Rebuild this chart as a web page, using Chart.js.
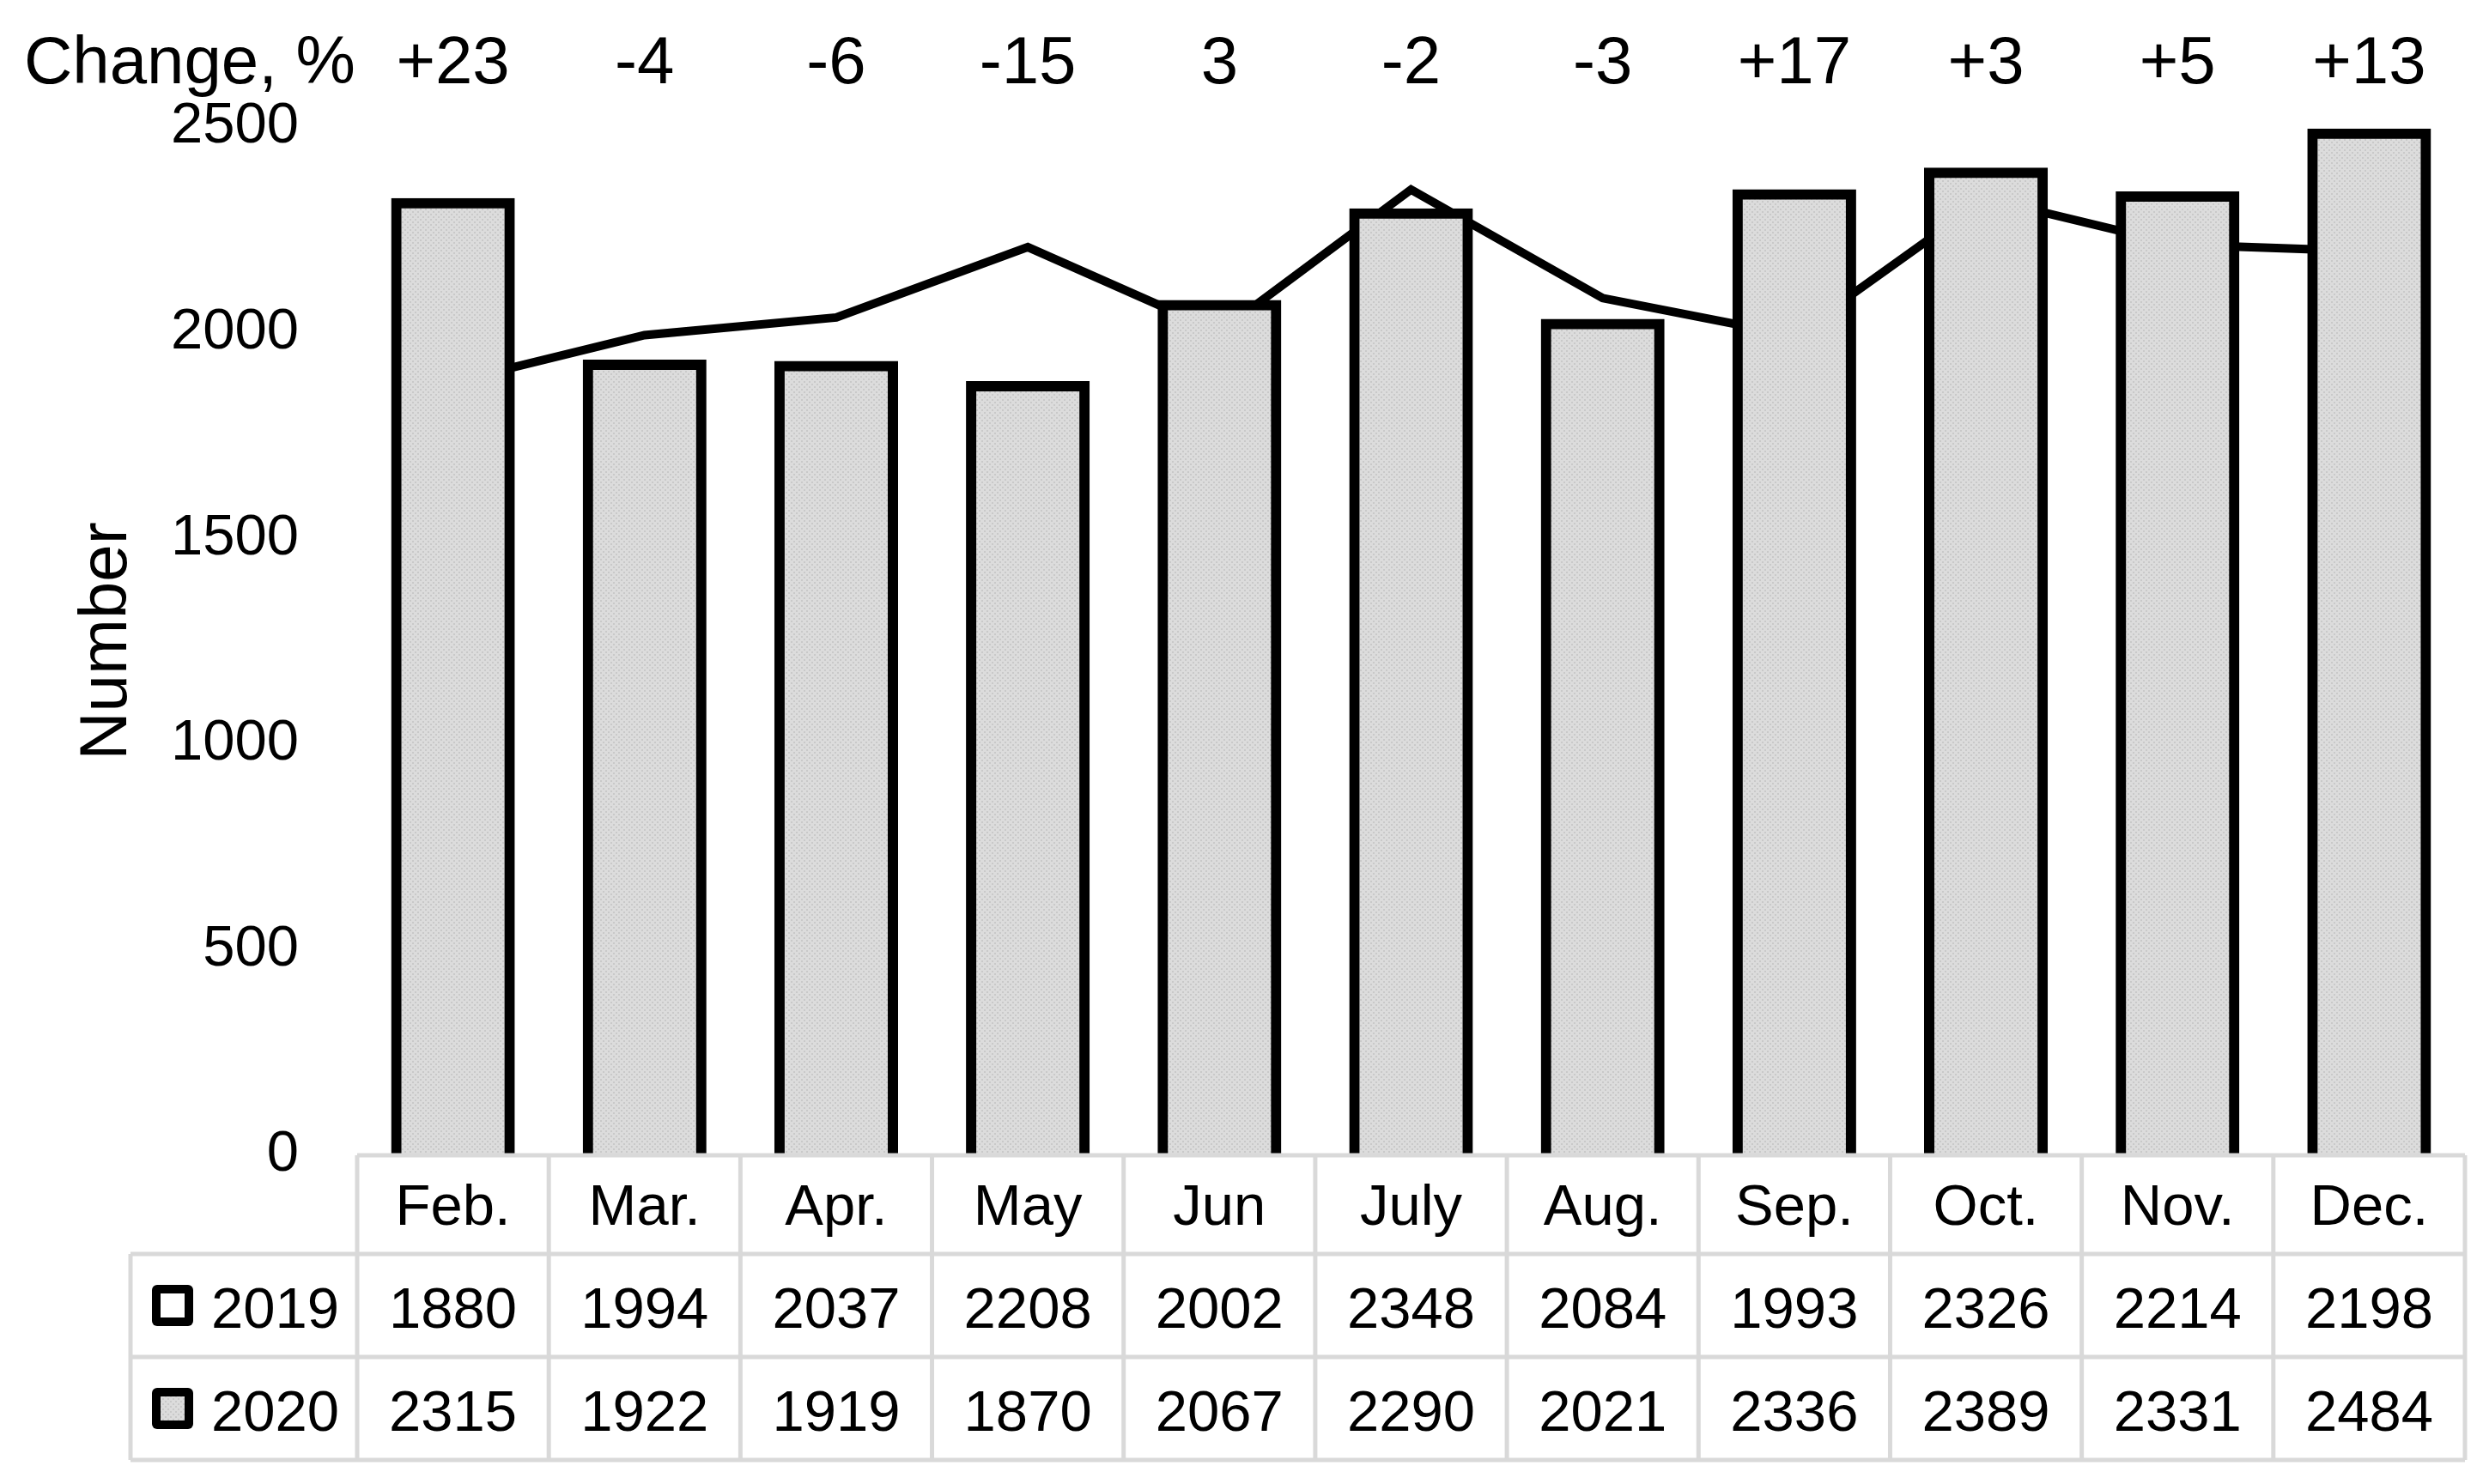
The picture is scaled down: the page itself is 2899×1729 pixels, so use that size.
<!DOCTYPE html>
<html>
<head>
<meta charset="utf-8">
<title>Number by month, 2019 vs 2020</title>
<script src="https://cdn.jsdelivr.net/npm/chart.js@4.4.1/dist/chart.umd.min.js"></script>
<style>
  html, body { margin: 0; padding: 0; background: #fff; }
  #wrap { width: 2899px; height: 1729px; }
</style>
</head>
<body>
<div id="wrap"><canvas id="chart" width="2899" height="1729"></canvas></div>
<script>
// Data
const months = ['Feb.', 'Mar.', 'Apr.', 'May', 'Jun', 'July', 'Aug.', 'Sep.', 'Oct.', 'Nov.', 'Dec.'];
const values2019 = [1880, 1994, 2037, 2208, 2002, 2348, 2084, 1993, 2326, 2214, 2198];
const values2020 = [2315, 1922, 1919, 1870, 2067, 2290, 2021, 2336, 2389, 2331, 2484];
const changePct = ['+23', '-4', '-6', '-15', '3', '-2', '-3', '+17', '+3', '+5', '+13'];
const seriesNames = ['2019', '2020'];

const FONT = '"Liberation Sans", Arial, sans-serif';
const GRID_GRAY = '#d9d9d9';

// light gray fill with a fine dot texture, like the original bars
function makeBarFill() {
    const tile = document.createElement('canvas');
    tile.width = 6;
    tile.height = 6;
    const t = tile.getContext('2d');
    t.fillStyle = '#dcdcdc';
    t.fillRect(0, 0, 6, 6);
    t.fillStyle = '#c9c9c9';
    t.fillRect(0, 0, 2, 2);
    t.fillRect(3, 3, 2, 2);
    return document.getElementById('chart').getContext('2d').createPattern(tile, 'repeat');
}
const BAR_FILL = makeBarFill();

// Draws the data table under the plot and the "Change, %" row above it
const dataTablePlugin = {
    id: 'dataTable',
    afterDraw(chart) {
        const ctx = chart.ctx;
        const xs = chart.scales.x;
        const area = chart.chartArea;
        const colW = xs.width / months.length;
        const legendLeft = 152;
        const rows = [area.bottom, area.bottom + 115, area.bottom + 235, area.bottom + 355];

        ctx.save();

        // clean background under the bars for the header row
        ctx.fillStyle = '#fff';
        ctx.fillRect(area.left, rows[0] + 2, area.right - area.left, rows[1] - rows[0]);

        // grid lines of the table
        ctx.strokeStyle = GRID_GRAY;
        ctx.lineWidth = 5;
        ctx.beginPath();
        ctx.moveTo(area.left, rows[0]);
        ctx.lineTo(area.right, rows[0]);
        for (let r = 1; r < rows.length; r++) {
            ctx.moveTo(legendLeft, rows[r]);
            ctx.lineTo(area.right, rows[r]);
        }
        for (let i = 0; i <= months.length; i++) {
            const x = area.left + i * colW;
            ctx.moveTo(x, rows[0]);
            ctx.lineTo(x, rows[3]);
        }
        ctx.moveTo(legendLeft, rows[1]);
        ctx.lineTo(legendLeft, rows[3]);
        ctx.stroke();

        // cell texts
        ctx.fillStyle = '#000';
        ctx.font = '67px ' + FONT;
        ctx.textAlign = 'center';
        ctx.textBaseline = 'alphabetic';
        months.forEach((m, i) => {
            const cx = xs.getPixelForValue(i);
            ctx.fillText(m, cx, rows[0] + 81);
            ctx.fillText(String(values2019[i]), cx, rows[1] + 86);
            ctx.fillText(String(values2020[i]), cx, rows[2] + 86);
        });

        // legend keys + series names
        ['#ffffff', BAR_FILL].forEach((fill, r) => {
            const cy = (rows[r + 1] + rows[r + 2]) / 2;
            const size = 48;
            const x0 = 177, y0 = cy - size / 2;
            ctx.fillStyle = '#000';
            ctx.beginPath();
            ctx.roundRect(x0, y0, size, size, 6);
            ctx.fill();
            ctx.fillStyle = fill;
            ctx.fillRect(x0 + 10, y0 + 10, size - 20, size - 20);
            ctx.fillStyle = '#000';
            ctx.textAlign = 'left';
            ctx.fillText(seriesNames[r], 246, rows[r + 1] + 86);
        });

        // change row on top
        ctx.font = '78px ' + FONT;
        ctx.textAlign = 'left';
        ctx.fillText('Change, %', 28, 97);
        ctx.textAlign = 'center';
        changePct.forEach((c, i) => {
            ctx.fillText(c, xs.getPixelForValue(i), 97);
        });

        ctx.restore();
    }
};

function initChart() {
    const ctx = document.getElementById('chart').getContext('2d');
    new Chart(ctx, {
        data: {
            labels: months,
            datasets: [
                {
                    type: 'bar',
                    label: seriesNames[1],
                    data: values2020,
                    backgroundColor: BAR_FILL,
                    borderColor: '#000',
                    borderWidth: 12,
                    inflateAmount: 6, // border sits on the value line, like Excel
                    borderSkipped: 'start',
                    barPercentage: 0.592,
                    categoryPercentage: 1,
                    order: 0
                },
                {
                    type: 'line',
                    label: seriesNames[0],
                    data: values2019,
                    borderColor: '#000',
                    borderWidth: 10,
                    tension: 0,
                    pointRadius: 0,
                    fill: false,
                    order: 1 // drawn under the bars
                }
            ]
        },
        options: {
            responsive: false,
            animation: false,
            devicePixelRatio: 1,
            layout: { padding: { left: 0, top: 148, right: 28, bottom: 383 } },
            plugins: {
                legend: { display: false },
                tooltip: { enabled: false }
            },
            scales: {
                x: {
                    type: 'category',
                    display: false,
                    offset: true,
                    grid: { display: false }
                },
                y: {
                    min: 0,
                    max: 2500,
                    border: { display: false },
                    grid: { display: false, drawTicks: false },
                    ticks: {
                        stepSize: 500,
                        padding: 68,
                        color: '#000',
                        font: { family: FONT, size: 67 },
                        callback: v => String(v)
                    },
                    title: {
                        display: true,
                        text: 'Number',
                        color: '#000',
                        font: { family: FONT, size: 78 },
                        padding: { top: 79, bottom: 0 }
                    },
                    afterFit(scale) {
                        scale.width = 416;
                    }
                }
            }
        },
        plugins: [dataTablePlugin]
    });
}

initChart();
</script>
</body>
</html>
